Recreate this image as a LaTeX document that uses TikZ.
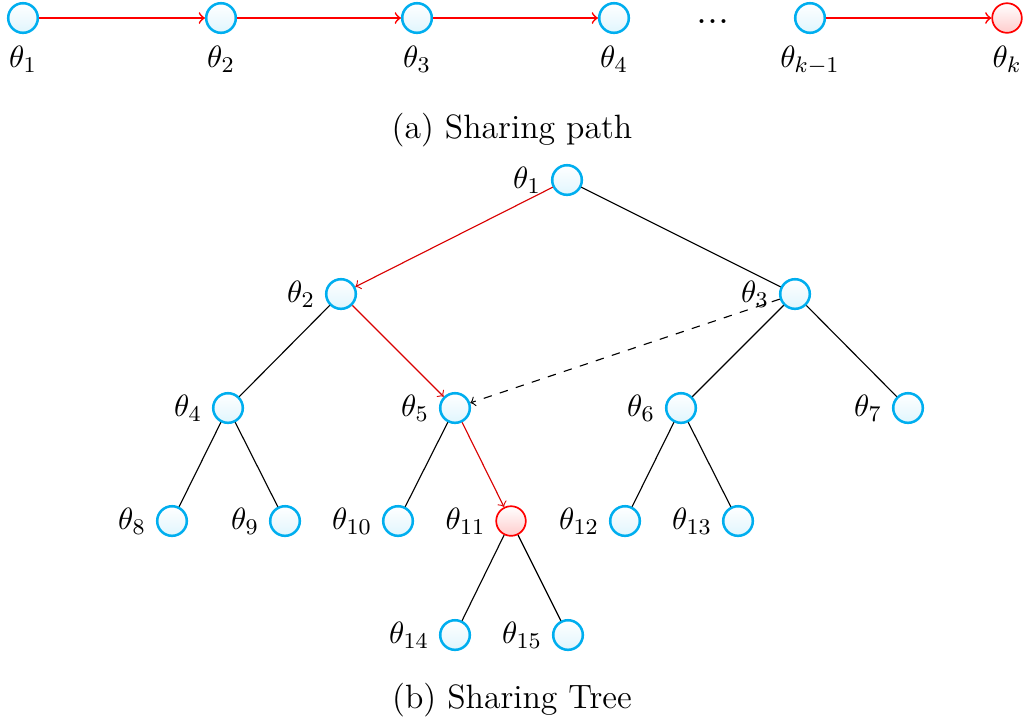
\documentclass[tikz,border=0pt]{standalone}
\usetikzlibrary{positioning,arrows,calc}
\definecolor{nodecyan}{RGB}{0,174,239}
\tikzset{
param/.style={circle,draw=nodecyan,line width=0.9pt,minimum size=0.37cm,inner sep=0pt,
top color=white,bottom color=nodecyan!12},
target/.style={param,draw=red,line width=0.6pt,bottom color=red!20},
share/.style={->,red,semithick},
tree share/.style={->,red!85!black,thin},
branch/.style={thin},
borrow/.style={->,dashed,thin},
below label/.style={label={[label distance=0.3mm]below:#1}},
caption/.style={font=\large}
}

\begin{document}
\begin{tikzpicture}[x=0.0125cm,y=-0.0125cm,every label/.style={font=\fontsize{11}{13}\selectfont}]
\useasboundingbox (0,0) rectangle (1024,722);

% sharing path
\node[param,below label=$\theta_1$] (p1) at (23,18) {};
\node[param,below label=$\theta_2$] (p2) at (221,18) {};
\node[param,below label=$\theta_3$] (p3) at (417,18) {};
\node[param,below label=$\theta_4$] (p4) at (614,18) {};
\node[font=\Large,inner sep=1pt] (dots) at (713,22) {.\hspace{0pt}.\hspace{0pt}.};
\node[param,below label=$\theta_{k-1}$] (pk1) at (810,18) {};
\node[target,below label=$\theta_k$] (pk) at (1007,18) {};

\draw[share] (p1) -- (p2);
\draw[share] (p2) -- (p3);
\draw[share] (p3) -- (p4);
\draw[share] (pk1) -- (pk);

\node[caption] (capa) at (512,130) {(a) Sharing path};

% sharing tree
\node[param,label=left:$\theta_1$] (t1) at (567,180) {};
\node[param,label=left:$\theta_2$] (t2) at (341,294) {};
\node[param,label=left:$\theta_3$] (t3) at (795,294) {};
\node[param,label=left:$\theta_4$] (t4) at (228,408) {};
\node[param,label=left:$\theta_5$] (t5) at (455,408) {};
\node[param,label=left:$\theta_6$] (t6) at (681,408) {};
\node[param,label=left:$\theta_7$] (t7) at (908,408) {};
\node[param,label=left:$\theta_8$] (t8) at (172,521) {};
\node[param,label=left:$\theta_9$] (t9) at (285,521) {};
\node[param,label=left:$\theta_{10}$] (t10) at (398,521) {};
\node[target,label=left:$\theta_{11}$] (t11) at (511,521) {};
\node[param,label=left:$\theta_{12}$] (t12) at (625,521) {};
\node[param,label=left:$\theta_{13}$] (t13) at (738,521) {};
\node[param,label=left:$\theta_{14}$] (t14) at (455,635) {};
\node[param,label=left:$\theta_{15}$] (t15) at (568,635) {};

\draw[tree share] (t1) -- (t2);
\draw[tree share] (t2) -- (t5);
\draw[tree share] (t5) -- (t11);
\draw[branch] (t1) -- (t3);
\draw[branch] (t2) -- (t4);
\draw[branch] (t3) -- (t6);
\draw[branch] (t3) -- (t7);
\draw[branch] (t4) -- (t8);
\draw[branch] (t4) -- (t9);
\draw[branch] (t5) -- (t10);
\draw[branch] (t6) -- (t12);
\draw[branch] (t6) -- (t13);
\draw[branch] (t11) -- (t14);
\draw[branch] (t11) -- (t15);
\draw[borrow] (t3) -- (t5);

\node[caption] (capb) at (512,700) {(b) Sharing Tree};

\end{tikzpicture}
\end{document}
